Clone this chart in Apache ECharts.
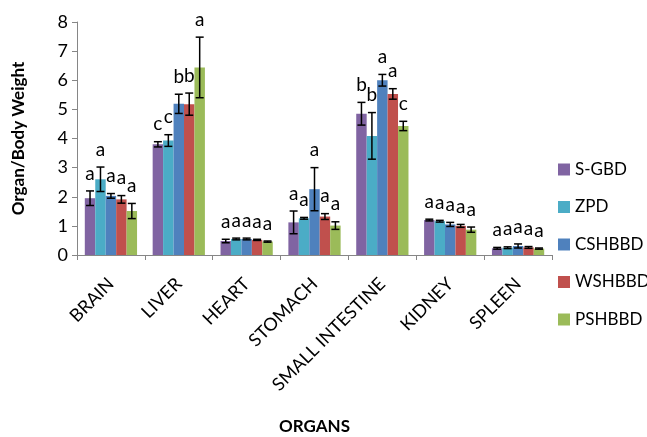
<!DOCTYPE html>
<html>
<head>
<meta charset="utf-8">
<script src="https://cdn.jsdelivr.net/npm/echarts@6/dist/echarts.min.js"></script>
<style>html,body{margin:0;padding:0;background:#fff}#c{width:647px;height:437px}</style>
</head>
<body>
<div id="c"></div>
<script>
const categories = ['BRAIN','LIVER','HEART','STOMACH','SMALL INTESTINE','KIDNEY','SPLEEN'];
const seriesNames = ['S-GBD','ZPD','CSHBBD','WSHBBD','PSHBBD'];
const sgbd   = [1.95, 3.80, 0.48, 1.12, 4.85, 1.20, 0.23];
const zpd    = [2.60, 3.93, 0.55, 1.26, 4.09, 1.16, 0.25];
const cshbbd = [2.03, 5.19, 0.55, 2.26, 6.00, 1.05, 0.31];
const wshbbd = [1.91, 5.18, 0.52, 1.32, 5.53, 1.00, 0.26];
const pshbbd = [1.51, 6.44, 0.46, 1.01, 4.43, 0.87, 0.22];
const sgbdErr   = [0.25, 0.09, 0.06, 0.39, 0.39, 0.03, 0.03];
const zpdErr    = [0.42, 0.20, 0.03, 0.03, 0.80, 0.03, 0.03];
const cshbbdErr = [0.08, 0.33, 0.03, 0.74, 0.20, 0.07, 0.07];
const wshbbdErr = [0.13, 0.38, 0.02, 0.10, 0.18, 0.05, 0.03];
const pshbbdErr = [0.26, 1.04, 0.02, 0.13, 0.16, 0.09, 0.02];
const sgbdLetters   = ['a','c','a','a','b','a','a'];
const zpdLetters    = ['a','c','a','a','b','a','a'];
const cshbbdLetters = ['a','b','a','a','a','a','a'];
const wshbbdLetters = ['a','b','a','a','a','a','a'];
const pshbbdLetters = ['a','a','a','a','c','a','a'];
const yTicks = [0,1,2,3,4,5,6,7,8];

const colors = ['#8064A2','#4BACC6','#4F81BD','#C0504D','#9BBB59'];
const values = [sgbd, zpd, cshbbd, wshbbd, pshbbd];
const errs = [sgbdErr, zpdErr, cshbbdErr, wshbbdErr, pshbbdErr];
const letters = [sgbdLetters, zpdLetters, cshbbdLetters, wshbbdLetters, pshbbdLetters];
const CAT_GAP = 0.23;
const FONT = 'Lato';

const barSeries = seriesNames.map((n, s) => ({
  name: n, type: 'bar', data: values[s], barGap: '0%', barCategoryGap: (CAT_GAP*100)+'%',
  itemStyle: { color: colors[s] }, z: 2
}));

const errSeries = seriesNames.map((n, s) => ({
  type: 'custom', name: n + '_err', z: 5, silent: true,
  data: values[s].map((v, i) => [i, v]),
  encode: { x: 0, y: 1 },
  renderItem: function (params, api) {
    const i = api.value(0);
    const v = values[s][i], e = errs[s][i];
    const c = api.coord([i, v]);
    const band = api.size([1, 0])[0];
    const groupW = band * (1 - CAT_GAP);
    const bw = groupW / seriesNames.length;
    const x = c[0] - groupW / 2 + (s + 0.5) * bw;
    const top = api.coord([i, v + e])[1];
    const bot = api.coord([i, v - e])[1];
    const half = 4;
    const st = { stroke: '#000', lineWidth: 1.5 };
    return { type: 'group', children: [
      { type: 'line', shape: { x1: x, y1: top, x2: x, y2: bot }, style: st },
      { type: 'line', shape: { x1: x - half, y1: top, x2: x + half, y2: top }, style: st },
      { type: 'line', shape: { x1: x - half, y1: bot, x2: x + half, y2: bot }, style: st },
      { type: 'text', style: { text: letters[s][i], x: x, y: top - 8, textAlign: 'center', textVerticalAlign: 'bottom',
        fontFamily: FONT, fontSize: 19, fill: '#000' } }
    ]};
  }
}));

const chart = echarts.init(document.getElementById('c'), null, { renderer: 'canvas' });
chart.setOption({
  animation: false,
  textStyle: { fontFamily: FONT },
  grid: { left: 77, right: 95, top: 22, bottom: 182, containLabel: false, outerBoundsMode: 'none' },
  legend: {
    data: seriesNames, orient: 'vertical', left: 553, top: 156, itemWidth: 12, itemHeight: 12, itemGap: 20.5,
    icon: 'rect', textStyle: { fontFamily: FONT, fontSize: 17, color: '#000' }
  },
  xAxis: {
    type: 'category', data: categories, name: 'ORGANS', nameLocation: 'middle', nameGap: 163,
    nameTextStyle: { fontFamily: FONT, fontSize: 17, fontWeight: 'bold', color: '#000' },
    axisLine: { lineStyle: { color: '#868686', width: 1 } },
    axisTick: { show: true, length: 5, lineStyle: { color: '#868686' } },
    axisLabel: { rotate: 45, margin: 26, fontFamily: FONT, fontSize: 18, color: '#000', interval: 0 }
  },
  yAxis: {
    type: 'value', min: yTicks[0], max: yTicks[yTicks.length - 1], interval: 1,
    name: 'Organ/Body Weight', nameLocation: 'middle', nameGap: 50,
    nameTextStyle: { fontFamily: FONT, fontSize: 17, fontWeight: 'bold', color: '#000' },
    axisLine: { show: true, lineStyle: { color: '#868686', width: 1 } },
    axisTick: { show: true, length: 5, lineStyle: { color: '#868686' } },
    splitLine: { show: false },
    axisLabel: { margin: 9, fontFamily: FONT, fontSize: 18, color: '#000' }
  },
  series: barSeries.concat(errSeries)
});
</script>
</body>
</html>
